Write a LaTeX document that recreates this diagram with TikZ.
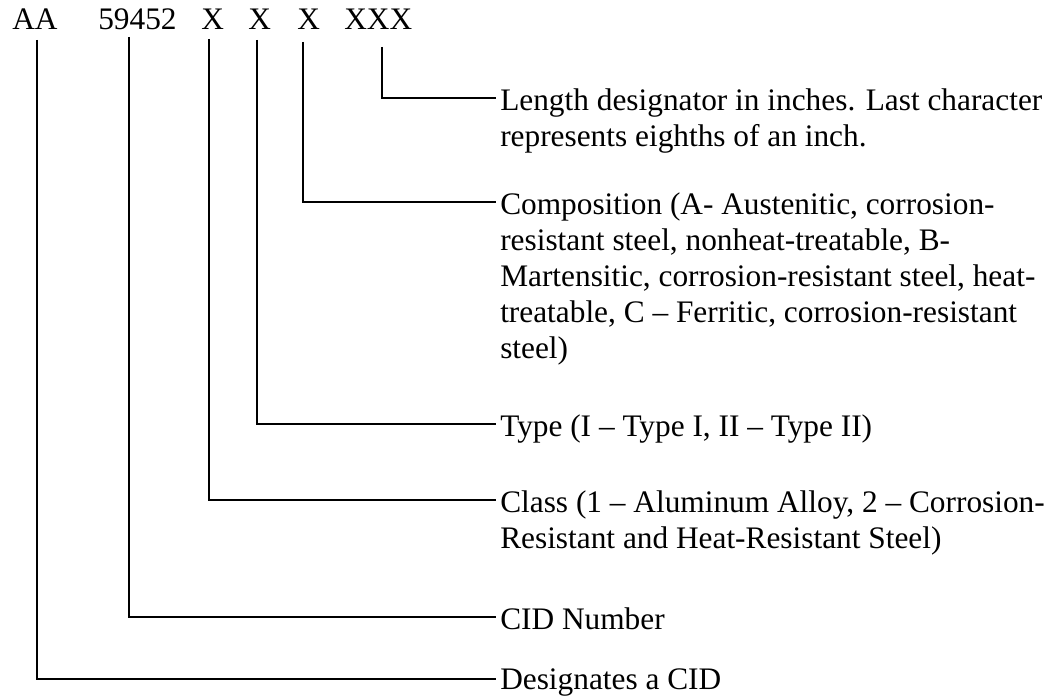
\documentclass[tikz,border=0pt]{standalone}
\usepackage{fontspec}
\setmainfont{Liberation Serif}
\begin{document}
\begin{tikzpicture}[x=0.75pt,y=-0.75pt,
  lbl/.style={anchor=north west, inner sep=0pt, align=left, font=\fontsize{23.5}{27}\selectfont},
  code/.style={anchor=base west, inner sep=0pt, font=\fontsize{23.5}{27}\selectfont},
  conn/.style={line width=1.5pt, line join=miter}]
\useasboundingbox (0,0) rectangle (1051,698);
% code characters
\node[code] (aa) at (12,30) {AA};
\node[code] (num) at (98,30) {59452};
\node[code] (x1) at (201,30) {X};
\node[code] (x2) at (248,30) {X};
\node[code] (x3) at (297,30) {X};
\node[code] (xxx) at (344,30) {XXX};
% descriptions
\node[lbl] (len) at (500,88) {Length designator in inches. Last character\\represents eighths of an inch.};
\node[lbl] (comp) at (500,192) {Composition (A- Austenitic, corrosion-\\resistant steel, nonheat-treatable, B-\\Martensitic, corrosion-resistant steel, heat-\\treatable, C -- Ferritic, corrosion-resistant\\steel)};
\node[lbl] (type) at (500,414) {Type (I -- Type I, II -- Type II)};
\node[lbl] (class) at (500,490) {Class (1 -- Aluminum Alloy, 2 -- Corrosion-\\Resistant and Heat-Resistant Steel)};
\node[lbl] (cid) at (500,607) {CID Number};
\node[lbl] (des) at (500,668) {Designates a CID};
% connector ends
\coordinate (aaT) at (37,40);   \coordinate (aaE) at (496,679);
\coordinate (numT) at (129,37); \coordinate (numE) at (496,617);
\coordinate (x1T) at (209,39);  \coordinate (x1E) at (496,500);
\coordinate (x2T) at (257,40);  \coordinate (x2E) at (496,424);
\coordinate (x3T) at (303,42);  \coordinate (x3E) at (496,202);
\coordinate (xxxT) at (382,47); \coordinate (xxxE) at (496,98);
\draw[conn] (aaT) |- (aaE);
\draw[conn] (numT) |- (numE);
\draw[conn] (x1T) |- (x1E);
\draw[conn] (x2T) |- (x2E);
\draw[conn] (x3T) |- (x3E);
\draw[conn] (xxxT) |- (xxxE);
\end{tikzpicture}
\end{document}
